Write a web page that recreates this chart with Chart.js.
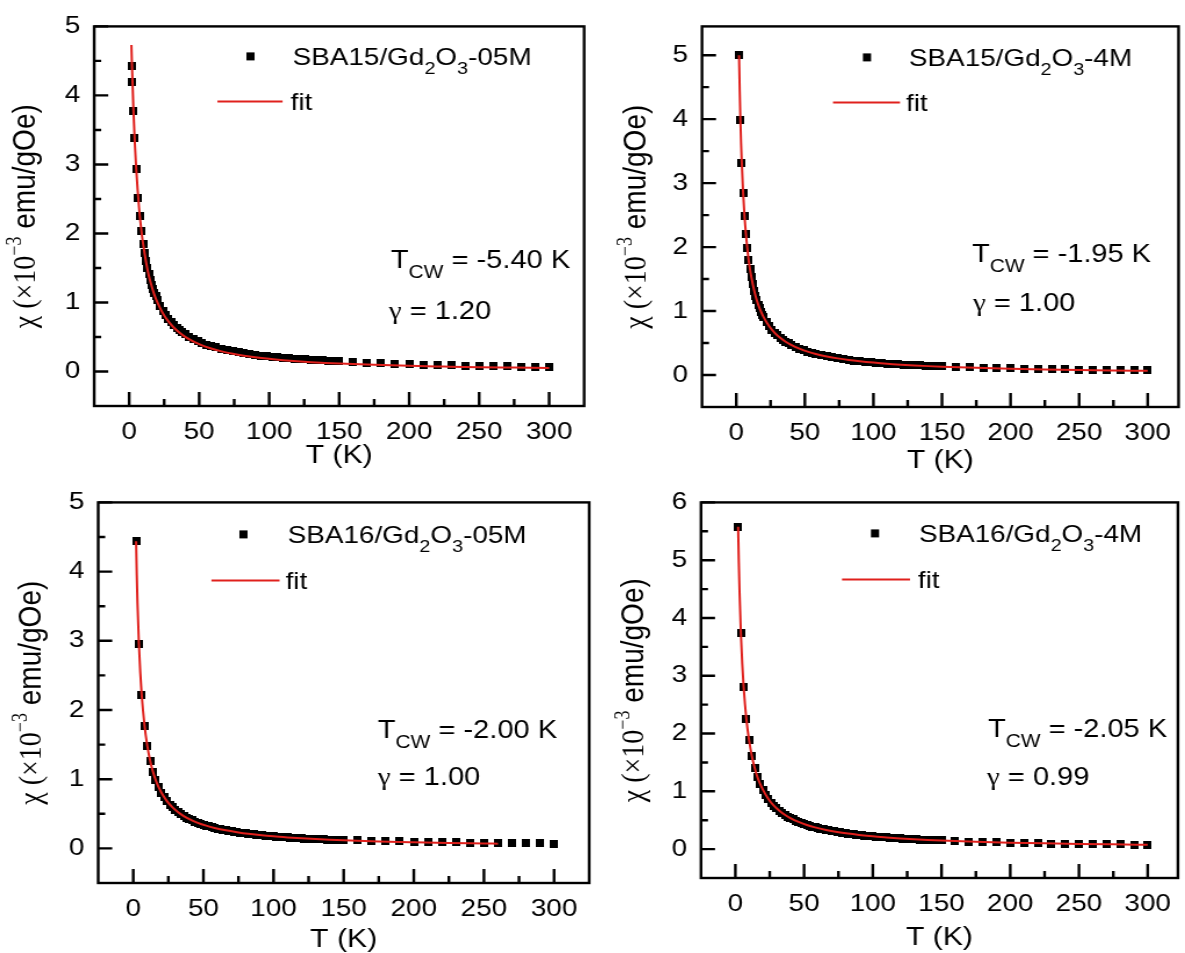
<!DOCTYPE html>
<html>
<head>
<meta charset="utf-8">
<script src="https://cdn.jsdelivr.net/npm/chart.js@4.4.0/dist/chart.umd.min.js"></script>
<style>
html, body { margin: 0; padding: 0; background: #fff; }
body { width: 1185px; height: 953px; position: relative; overflow: hidden; }
.panel { position: absolute; transform-origin: 0 0; }
</style>
</head>
<body>
<div class="panel" id="p1"><canvas id="c1"></canvas></div>
<div class="panel" id="p2"><canvas id="c2"></canvas></div>
<div class="panel" id="p3"><canvas id="c3"></canvas></div>
<div class="panel" id="p4"><canvas id="c4"></canvas></div>
<script>
// tick values
var xTicks = [0, 50, 100, 150, 200, 250, 300];
var xMinor = [25, 75, 125, 175, 225, 275];
var yTicks5 = [0, 1, 2, 3, 4, 5];
var yMinor5 = [0.5, 1.5, 2.5, 3.5, 4.5];
var yTicks6 = [0, 1, 2, 3, 4, 5, 6];
var yMinor6 = [0.5, 1.5, 2.5, 3.5, 4.5, 5.5];

// temperatures (K) shared by the SBA15 samples above 10 K
var tempTail = [10, 11, 12, 13, 14, 15, 16, 17, 18, 19, 20, 22, 24, 26, 28, 30, 32, 34, 36, 38, 40,
  43, 46, 49, 52, 55, 58, 62, 66, 70, 74, 78, 82, 86, 90, 94, 98, 102, 106, 110, 114, 118, 122, 126,
  130, 134, 138, 142, 146, 150, 160, 170, 180, 190, 200, 210, 220, 230, 240, 250, 260, 270, 280, 290, 300];

// SBA15/Gd2O3-05M
var tempA = [2.0, 2.35, 3.05, 3.85, 5.05, 6.45, 7.55, 8.7].concat(tempTail);
var chiA = [4.43, 4.19, 3.77, 3.38, 2.93, 2.52, 2.26, 2.04,
  1.84, 1.71, 1.60, 1.50, 1.41, 1.33, 1.26, 1.20, 1.14, 1.09, 1.04,
  0.955, 0.881, 0.817, 0.761, 0.712, 0.669, 0.630, 0.596, 0.565, 0.537,
  0.500, 0.468, 0.439, 0.414, 0.391, 0.371, 0.348, 0.327, 0.308,
  0.292, 0.277, 0.264, 0.252, 0.241, 0.231, 0.222, 0.214, 0.206, 0.199,
  0.192, 0.186, 0.181, 0.175, 0.170, 0.166, 0.161, 0.157, 0.153, 0.150,
  0.136, 0.127, 0.120, 0.112, 0.106, 0.100, 0.094, 0.090, 0.085, 0.081, 0.077, 0.073, 0.069, 0.066, 0.063];
var fitTA = [1.6, 2, 3, 4, 5, 6, 7, 8, 9, 10, 12, 14, 16, 18, 20, 24, 28, 32, 36, 40, 46, 52, 58,
  66, 74, 82, 90, 100, 110, 120, 130, 140, 150, 175, 200, 225, 250, 275, 300];
var fitChiA = [4.73, 4.43, 3.81, 3.32, 2.94, 2.64, 2.38, 2.17, 1.99, 1.84, 1.59, 1.39, 1.24, 1.11, 1.01,
  0.846, 0.726, 0.634, 0.561, 0.502, 0.433, 0.379, 0.336, 0.292, 0.257, 0.229, 0.206,
  0.183, 0.164, 0.148, 0.135, 0.124, 0.115, 0.096, 0.082, 0.072, 0.063, 0.057, 0.051];

// SBA15/Gd2O3-4M
var tempB = [2, 3, 4, 5, 6, 7, 8, 9].concat(tempTail);
var chiB = [5.00, 3.99, 3.32, 2.84, 2.48, 2.21, 1.99, 1.80,
  1.65, 1.53, 1.42, 1.32, 1.24, 1.17, 1.10, 1.04, 0.990, 0.943, 0.900,
  0.825, 0.761, 0.707, 0.659, 0.618, 0.582, 0.549, 0.520, 0.494, 0.471,
  0.439, 0.412, 0.388, 0.366, 0.347, 0.329, 0.309, 0.291, 0.274,
  0.260, 0.247, 0.235, 0.225, 0.215, 0.206, 0.198, 0.190, 0.183, 0.179,
  0.173, 0.168, 0.163, 0.158, 0.154, 0.150, 0.146, 0.142, 0.138, 0.135,
  0.128, 0.121, 0.115, 0.109, 0.104, 0.099, 0.095, 0.091, 0.088, 0.084, 0.081, 0.079, 0.076, 0.074, 0.071];
var fitTB = [2, 2.5, 3, 3.5, 4, 5, 6, 7, 8, 9, 10, 12, 14, 16, 18, 20, 24, 28, 32, 36, 40, 46, 52, 58,
  66, 74, 82, 90, 100, 110, 120, 130, 140, 150, 175, 200, 225, 250, 275, 300];
var fitChiB = [5.00, 4.44, 3.99, 3.62, 3.32, 2.84, 2.48, 2.21, 1.99, 1.80, 1.65, 1.42, 1.24, 1.10, 0.990, 0.900,
  0.761, 0.659, 0.582, 0.520, 0.471, 0.412, 0.366, 0.329, 0.291, 0.260, 0.235, 0.215,
  0.194, 0.176, 0.162, 0.150, 0.139, 0.130, 0.112, 0.098, 0.087, 0.078, 0.071, 0.065];

// temperatures (K) of the SBA16 samples
var tempEven = [2, 4, 6, 8, 10, 12, 14, 16, 18, 20, 22, 24, 26, 28, 30, 32, 34, 36, 38, 40,
  42, 44, 46, 48, 50, 52, 54, 56, 58, 60, 62, 64, 66, 68, 70, 72, 74, 76, 78, 80,
  82, 84, 86, 88, 90, 92, 94, 96, 98, 100, 102, 104, 106, 108, 110, 112, 114, 116, 118, 120,
  122, 124, 126, 128, 130, 132, 134, 136, 138, 140, 142, 144, 146, 148, 150,
  160, 170, 180, 190, 200, 210, 220, 230, 240, 250, 260, 270, 280, 290, 300];

// SBA16/Gd2O3-05M
var chiC = [4.44, 2.96, 2.22, 1.776, 1.48, 1.269, 1.11, 0.987, 0.888, 0.807,
  0.740, 0.683, 0.634, 0.592, 0.555, 0.522, 0.493, 0.467, 0.444, 0.423,
  0.404, 0.386, 0.370, 0.355, 0.342, 0.329, 0.317, 0.306, 0.296, 0.286,
  0.278, 0.269, 0.261, 0.254, 0.247, 0.240, 0.234, 0.228, 0.222, 0.217,
  0.211, 0.207, 0.202, 0.197, 0.193, 0.189, 0.185, 0.181, 0.178, 0.174,
  0.171, 0.168, 0.164, 0.161, 0.159, 0.156, 0.153, 0.151, 0.148, 0.146,
  0.143, 0.141, 0.139, 0.137, 0.135, 0.133, 0.131, 0.129, 0.127, 0.125,
  0.123, 0.122, 0.120, 0.118, 0.117,
  0.115, 0.109, 0.104, 0.100, 0.095, 0.092, 0.088, 0.086, 0.082, 0.080, 0.078, 0.075, 0.073, 0.071, 0.069];
var fitTC = [2, 2.5, 3, 4, 5, 6, 8, 10, 12, 14, 16, 18, 20, 24, 28, 32, 36, 40, 46, 52, 58,
  66, 74, 82, 90, 100, 110, 120, 130, 140, 150, 175, 200, 225, 250, 260];
var fitChiC = [4.44, 3.95, 3.55, 2.96, 2.54, 2.22, 1.78, 1.48, 1.27, 1.11, 0.987, 0.888, 0.807,
  0.683, 0.592, 0.522, 0.467, 0.423, 0.370, 0.329, 0.296, 0.261, 0.234, 0.211, 0.193,
  0.174, 0.159, 0.146, 0.135, 0.125, 0.117, 0.100, 0.088, 0.078, 0.071, 0.068];

// SBA16/Gd2O3-4M
var chiD = [5.58, 3.74, 2.81, 2.25, 1.88, 1.61, 1.41, 1.25, 1.13, 1.03,
  0.940, 0.868, 0.806, 0.752, 0.705, 0.664, 0.627, 0.594, 0.564, 0.537,
  0.513, 0.491, 0.470, 0.452, 0.434, 0.418, 0.403, 0.389, 0.376, 0.364,
  0.353, 0.342, 0.332, 0.323, 0.314, 0.305, 0.297, 0.290, 0.282, 0.275,
  0.269, 0.263, 0.257, 0.251, 0.246, 0.240, 0.235, 0.230, 0.226, 0.221,
  0.217, 0.213, 0.209, 0.205, 0.202, 0.198, 0.195, 0.191, 0.188, 0.185,
  0.182, 0.179, 0.176, 0.174, 0.171, 0.169, 0.166, 0.164, 0.161, 0.159,
  0.157, 0.155, 0.153, 0.151, 0.149,
  0.139, 0.131, 0.124, 0.118, 0.112, 0.107, 0.102, 0.097, 0.093, 0.090, 0.086, 0.083, 0.080, 0.077, 0.075];
var fitTD = [2, 2.5, 3, 4, 5, 6, 8, 10, 12, 14, 16, 18, 20, 24, 28, 32, 36, 40, 46, 52, 58,
  66, 74, 82, 90, 100, 110, 120, 130, 140, 150, 175, 200, 225, 250, 275, 300];
var fitChiD = [5.58, 4.97, 4.48, 3.74, 3.21, 2.81, 2.25, 1.88, 1.61, 1.41, 1.25, 1.13, 1.03,
  0.868, 0.752, 0.664, 0.594, 0.537, 0.470, 0.418, 0.376, 0.332, 0.297, 0.269, 0.246,
  0.221, 0.202, 0.185, 0.171, 0.159, 0.149, 0.128, 0.112, 0.100, 0.090, 0.082, 0.075];

var sampleNames = ['SBA15', 'SBA15', 'SBA16', 'SBA16'];
var sampleConc = ['-05M', '-4M', '-05M', '-4M'];
var tcwText = ['-5.40 K', '-1.95 K', '-2.00 K', '-2.05 K'];
var gammaText = ['1.20', '1.00', '1.00', '0.99'];

// the source figure is stretched sideways, so every panel is scaled in x
var S = 1.16;
var SANS = '"Liberation Sans", Arial, sans-serif';
var SERIF = '"Liberation Serif", "Times New Roman", serif';
var RED = '#e0201c';

function zip(xs, ys) {
    return xs.map(function(x, i) { return { x: x, y: ys[i] }; });
}

// square marker, kept square after the horizontal stretch
var mark = document.createElement('canvas');
mark.width = 7;
mark.height = 8;
var mg = mark.getContext('2d');
mg.fillStyle = '#000';
mg.fillRect(0, 0, 7, 8);

function drawRuns(ctx, x, y, runs) {
    runs.forEach(function(r) {
        ctx.font = r.font;
        ctx.fillText(r.t, x, y + (r.dy || 0));
        x += ctx.measureText(r.t).width;
    });
}
function runsWidth(ctx, runs) {
    var w = 0;
    runs.forEach(function(r) { ctx.font = r.font; w += ctx.measureText(r.t).width; });
    return w;
}

var decoPlugin = {
    id: 'deco',
    afterDraw: function(chart) {
        var d = chart.options.plugins.deco;
        var ctx = chart.ctx, a = chart.chartArea;
        var xs = chart.scales.x, ys = chart.scales.y;
        var k = 1 / S;
        ctx.save();

        // inward ticks on bottom and left
        ctx.strokeStyle = '#000';
        ctx.lineWidth = 2.4;
        ctx.beginPath();
        xTicks.forEach(function(v) {
            var px = xs.getPixelForValue(v);
            ctx.moveTo(px, a.bottom); ctx.lineTo(px, a.bottom - 14);
        });
        xMinor.forEach(function(v) {
            var px = xs.getPixelForValue(v);
            ctx.moveTo(px, a.bottom); ctx.lineTo(px, a.bottom - 7);
        });
        d.yMajor.forEach(function(v) {
            var py = ys.getPixelForValue(v);
            ctx.moveTo(a.left, py); ctx.lineTo(a.left + 14 * k, py);
        });
        d.yMinor.forEach(function(v) {
            var py = ys.getPixelForValue(v);
            ctx.moveTo(a.left, py); ctx.lineTo(a.left + 7 * k, py);
        });
        ctx.stroke();
        ctx.strokeRect(a.left, a.top, a.right - a.left, a.bottom - a.top);

        ctx.fillStyle = '#000';
        ctx.textBaseline = 'alphabetic';
        ctx.textAlign = 'left';

        // legend
        var L = d.legend;
        ctx.fillRect(a.left + L.mx * k - 3.5, a.top + L.my - 4, 7, 8);
        drawRuns(ctx, a.left + L.tx * k, a.top + L.my + 9, [
            { t: d.name + '/Gd', font: '24px ' + SANS },
            { t: '2', font: '17px ' + SANS, dy: 9 },
            { t: 'O', font: '24px ' + SANS },
            { t: '3', font: '17px ' + SANS, dy: 9 },
            { t: d.conc, font: '24px ' + SANS }
        ]);
        ctx.strokeStyle = RED;
        ctx.lineWidth = 2;
        ctx.beginPath();
        ctx.moveTo(a.left + L.lx0 * k, a.top + L.ly);
        ctx.lineTo(a.left + L.lx1 * k, a.top + L.ly);
        ctx.stroke();
        ctx.font = '24px ' + SANS;
        ctx.fillText('fit', a.left + L.fx * k, a.top + L.ly + 9);

        // fit parameters
        var N = d.note;
        drawRuns(ctx, a.left + N.ax * k, a.top + N.ay1, [
            { t: 'T', font: '25px ' + SANS },
            { t: 'CW', font: '18px ' + SANS, dy: 10 },
            { t: ' = ' + d.tcw, font: '25px ' + SANS }
        ]);
        drawRuns(ctx, a.left + N.gx * k, a.top + N.ay2, [
            { t: 'γ', font: '25px ' + SERIF },
            { t: ' = ' + d.gamma, font: '25px ' + SANS }
        ]);

        // x title
        ctx.textAlign = 'center';
        ctx.font = '26px ' + SANS;
        ctx.fillText('T (K)', (a.left + a.right) / 2, a.bottom + d.xTitle);

        // y title, rotated
        ctx.textAlign = 'left';
        var runs = [
            { t: 'χ (×10', font: '28px ' + SERIF },
            { t: '−3', font: '18px ' + SERIF, dy: -12 },
            { t: ' emu/gOe)', font: '28px ' + SANS }
        ];
        var w = runsWidth(ctx, runs);
        ctx.translate(a.left + d.yTitle * k, (a.top + a.bottom) / 2);
        ctx.rotate(-Math.PI / 2);
        drawRuns(ctx, -w / 2, 0, runs);
        ctx.restore();
    }
};

var X_AXIS_H = 50;

function makePanel(p) {
    var holder = document.getElementById(p.id);
    var left = p.box[0], top = p.box[1], w = p.box[2], h = p.box[3];
    var L = p.area[0], T = p.area[1], R = p.area[2], B = p.area[3];
    holder.style.left = left + 'px';
    holder.style.top = top + 'px';
    holder.style.width = (w / S) + 'px';
    holder.style.height = h + 'px';
    holder.style.transform = 'scaleX(' + S + ')';

    new Chart(document.getElementById(p.canvas), {
        type: 'scatter',
        data: {
            datasets: [
                {
                    label: 'fit',
                    data: zip(p.fitT, p.fitChi),
                    showLine: true,
                    borderColor: RED,
                    borderWidth: 2,
                    pointRadius: 0,
                    cubicInterpolationMode: 'monotone',
                    fill: false,
                    order: 0
                },
                {
                    label: 'data',
                    data: zip(p.temp, p.chi),
                    pointStyle: mark,
                    pointRadius: 4,
                    backgroundColor: '#000',
                    borderWidth: 0,
                    order: 1
                }
            ]
        },
        options: {
            responsive: true,
            maintainAspectRatio: false,
            animation: false,
            devicePixelRatio: 1,
            layout: {
                autoPadding: false,
                padding: { left: 0, top: T - top, right: (left + w - R) / S, bottom: top + h - B - X_AXIS_H }
            },
            scales: {
                x: {
                    type: 'linear',
                    min: -25,
                    max: p.xMax,
                    grid: { display: false, drawTicks: false },
                    border: { display: false },
                    ticks: { font: { family: SANS, size: 24 }, color: '#000', padding: 12, maxRotation: 0 },
                    afterBuildTicks: function(ax) { ax.ticks = xTicks.map(function(v) { return { value: v }; }); },
                    afterFit: function(ax) { ax.height = X_AXIS_H; }
                },
                y: {
                    type: 'linear',
                    min: -0.5,
                    max: p.yMax,
                    grid: { display: false, drawTicks: false },
                    border: { display: false },
                    ticks: { font: { family: SANS, size: 24 }, color: '#000', padding: 12 },
                    afterBuildTicks: function(ax) { ax.ticks = p.yMajor.map(function(v) { return { value: v }; }); },
                    afterFit: function(ax) { ax.width = (L - left) / S; }
                }
            },
            plugins: {
                legend: { display: false },
                tooltip: { enabled: false },
                deco: {
                    yMajor: p.yMajor, yMinor: p.yMinor,
                    name: p.name, conc: p.conc, tcw: p.tcw, gamma: p.gamma,
                    legend: p.legend, note: p.note, xTitle: p.xTitle, yTitle: p.yTitle
                }
            }
        },
        plugins: [decoPlugin]
    });
}

var panels = [
    { id: 'p1', canvas: 'c1', box: [0, 0, 596, 476], area: [94, 24, 583, 406], xMax: 325, yMax: 5,
      yMajor: yTicks5, yMinor: yMinor5, temp: tempA, chi: chiA, fitT: fitTA, fitChi: fitChiA,
      legend: { mx: 156, my: 30, tx: 198, lx0: 123, lx1: 188, ly: 75, fx: 196 },
      note: { ax: 296, ay1: 242, gx: 294, ay2: 293 }, xTitle: 57, yTitle: -59 },
    { id: 'p2', canvas: 'c2', box: [598, 0, 587, 476], area: [702, 23, 1183, 407], xMax: 322.5, yMax: 5.45,
      yMajor: yTicks5, yMinor: yMinor5, temp: tempB, chi: chiB, fitT: fitTB, fitChi: fitChiB,
      legend: { mx: 165, my: 31, tx: 207, lx0: 131, lx1: 198, ly: 76, fx: 204 },
      note: { ax: 270, ay1: 236, gx: 271, ay2: 285 }, xTitle: 61, yTitle: -56 },
    { id: 'p3', canvas: 'c3', box: [0, 476, 596, 477], area: [98, 499, 588, 883], xMax: 325, yMax: 5,
      yMajor: yTicks5, yMinor: yMinor5, temp: tempEven, chi: chiC, fitT: fitTC, fitChi: fitChiC,
      legend: { mx: 145, my: 32, tx: 189, lx0: 113, lx1: 181, ly: 78, fx: 187 },
      note: { ax: 279, ay1: 236, gx: 279, ay2: 283 }, xTitle: 64, yTitle: -57 },
    { id: 'p4', canvas: 'c4', box: [598, 476, 587, 477], area: [701, 500, 1183, 878], xMax: 322, yMax: 6,
      yMajor: yTicks6, yMinor: yMinor6, temp: tempEven, chi: chiD, fitT: fitTD, fitChi: fitChiD,
      legend: { mx: 174, my: 31, tx: 218, lx0: 141, lx1: 209, ly: 77, fx: 217 },
      note: { ax: 287, ay1: 235, gx: 286, ay2: 283 }, xTitle: 67, yTitle: -58 }
];

panels.forEach(function(p, i) {
    p.name = sampleNames[i];
    p.conc = sampleConc[i];
    p.tcw = tcwText[i];
    p.gamma = gammaText[i];
    makePanel(p);
});
</script>
</body>
</html>
